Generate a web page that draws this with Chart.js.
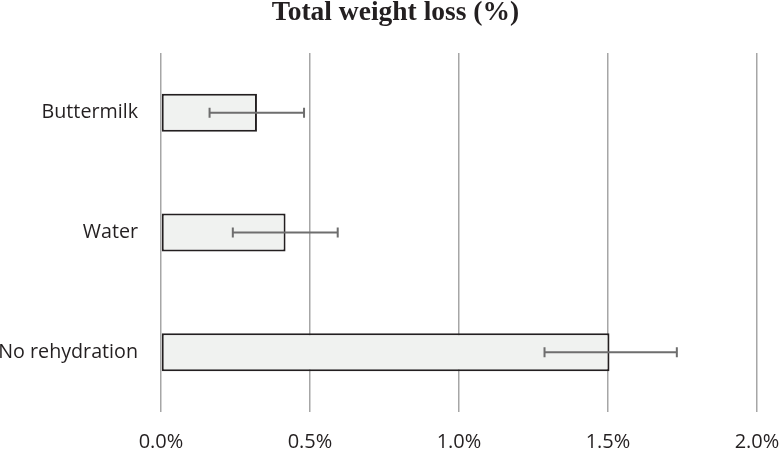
<!DOCTYPE html>
<html>
<head>
<meta charset="utf-8">
<script src="https://cdn.jsdelivr.net/npm/chart.js@4/dist/chart.umd.min.js"></script>
<style>
html,body{margin:0;padding:0;background:#fff;}
#wrap{width:780px;height:450px;position:relative;}
</style>
</head>
<body>
<div id="wrap"><canvas id="c" width="780" height="450"></canvas></div>
<script>
const categories = ["Buttermilk", "Water", "No rehydration"];
const lossValues = [0.322, 0.418, 1.505];
const errLow = [0.163, 0.241, 1.287];
const errHigh = [0.480, 0.593, 1.731];
const xTicks = [0, 0.5, 1.0, 1.5, 2.0];

const errorBars = {
  id: 'errorBars',
  afterLayout(chart) {
    if (chart.titleBlock) { chart.titleBlock.left = 11; chart.titleBlock.right = 780; }
  },
  afterDatasetsDraw(chart) {
    const ctx = chart.ctx;
    const xs = chart.scales.x;
    const meta = chart.getDatasetMeta(0);
    ctx.save();
    ctx.strokeStyle = '#6e6e6e';
    ctx.lineWidth = 2;
    meta.data.forEach((bar, i) => {
      const y = bar.y;
      const x1 = xs.getPixelForValue(errLow[i]);
      const x2 = xs.getPixelForValue(errHigh[i]);
      ctx.beginPath();
      ctx.moveTo(x1, y); ctx.lineTo(x2, y);
      ctx.moveTo(x1, y - 5); ctx.lineTo(x1, y + 5);
      ctx.moveTo(x2, y - 5); ctx.lineTo(x2, y + 5);
      ctx.stroke();
    });
    ctx.restore();
  }
};

new Chart(document.getElementById('c'), {
  type: 'bar',
  data: {
    labels: categories,
    datasets: [{
      data: lossValues,
      backgroundColor: '#f0f2f0',
      borderColor: '#231f20',
      borderWidth: 2,
      borderSkipped: false,
      barPercentage: 0.95,
      categoryPercentage: 0.334
    }]
  },
  options: {
    indexAxis: 'y',
    responsive: false,
    animation: false,
    layout: { padding: { left: 0, right: 0, top: 0, bottom: 0 } },
    plugins: {
      legend: { display: false },
      tooltip: { enabled: false },
      title: {
        display: true,
        text: 'Total weight loss (%)',
        color: '#231f20',
        font: { family: '"Liberation Serif"', size: 27.5, weight: 'bold', lineHeight: 0.92 },
        padding: { top: 0, bottom: 27.7 }
      }
    },
    scales: {
      x: {
        min: 0, max: 2,
        afterBuildTicks(scale) { scale.ticks = xTicks.map(v => ({ value: v })); },
        afterFit(scale) { scale.height = 38; scale.paddingLeft = 0; scale.paddingRight = 23; },
        grid: { color: '#a6a6a6', lineWidth: 1.5, drawTicks: false },
        border: { display: false },
        ticks: {
          padding: 18,
          color: '#231f20',
          maxRotation: 0,
          font: { family: '"Open Sans"', size: 20 },
          callback: (v) => Number(v).toFixed(1) + '%'
        }
      },
      y: {
        afterFit(scale) { scale.width = 161; scale.paddingTop = 0; scale.paddingBottom = 0; },
        grid: { display: false, drawTicks: false },
        border: { display: false },
        ticks: {
          padding: 23,
          color: '#231f20',
          font: { family: '"Open Sans"', size: 19.7 }
        }
      }
    }
  },
  plugins: [errorBars]
});
</script>
</body>
</html>
